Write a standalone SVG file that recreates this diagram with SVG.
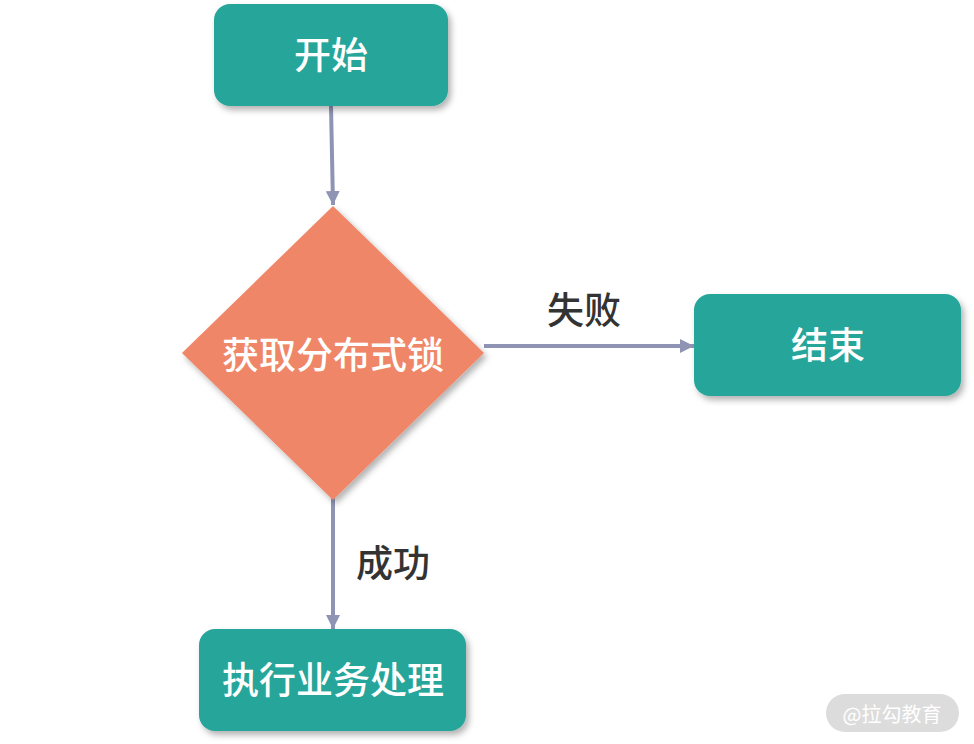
<svg xmlns="http://www.w3.org/2000/svg" width="974" height="744" viewBox="0 0 974 744">
<defs>
<filter id="sh" x="-20%" y="-20%" width="140%" height="150%">
<feDropShadow dx="3" dy="4" stdDeviation="3" flood-color="#000" flood-opacity="0.3"/>
</filter>
<marker id="arr" viewBox="0 0 14 14" refX="14" refY="7" markerWidth="14" markerHeight="14" orient="auto" markerUnits="userSpaceOnUse">
<path d="M0,0 L14,7 L0,14 z" fill="#8F94B4"/>
</marker>
<style>
.box{fill:#26A69A;filter:url(#sh);}
.dia{fill:#F08667;filter:url(#sh);}
.nt{font-family:"Noto Sans CJK SC","Liberation Sans",sans-serif;fill:#fff;text-anchor:middle;dominant-baseline:central;font-weight:500;font-size:37px;}
.lt{font-family:"Noto Sans CJK SC","Liberation Sans",sans-serif;fill:#333;text-anchor:middle;dominant-baseline:central;font-size:37px;font-weight:500;}
.edge{stroke:#8F94B4;stroke-width:4;fill:none;marker-end:url(#arr);}
</style>
</defs>
<rect width="974" height="744" fill="#fff"/>
<g id="connectors">
<path class="edge" d="M331,106 L333,205"/>
<path class="edge" d="M484,346 L694,346"/>
<path class="edge" d="M333,498 L333,629"/>
<text class="lt" x="584" y="308">失败</text>
<text class="lt" x="393" y="561">成功</text>
</g>
<g id="start">
<rect class="box" x="214" y="4" width="234" height="102" rx="16"/>
<text class="nt" x="331" y="53">开始</text>
</g>
<g id="lock">
<polygon class="dia" points="333,206 484,353 333,500 182,353"/>
<text class="nt" x="333" y="353">获取分布式锁</text>
</g>
<g id="end">
<rect class="box" x="694" y="294" width="267" height="102" rx="16"/>
<text class="nt" x="828" y="343">结束</text>
</g>
<g id="process">
<rect class="box" x="199" y="629" width="267" height="102" rx="16"/>
<text class="nt" x="333" y="678">执行业务处理</text>
</g>
<g id="watermark">
<rect x="826" y="694" width="133" height="38" rx="19" fill="#DCDCDC"/>
<text x="892" y="713" font-family="Noto Sans CJK SC,Liberation Sans,sans-serif" font-size="20" fill="#fff" text-anchor="middle" dominant-baseline="central">@拉勾教育</text>
</g>
</svg>
